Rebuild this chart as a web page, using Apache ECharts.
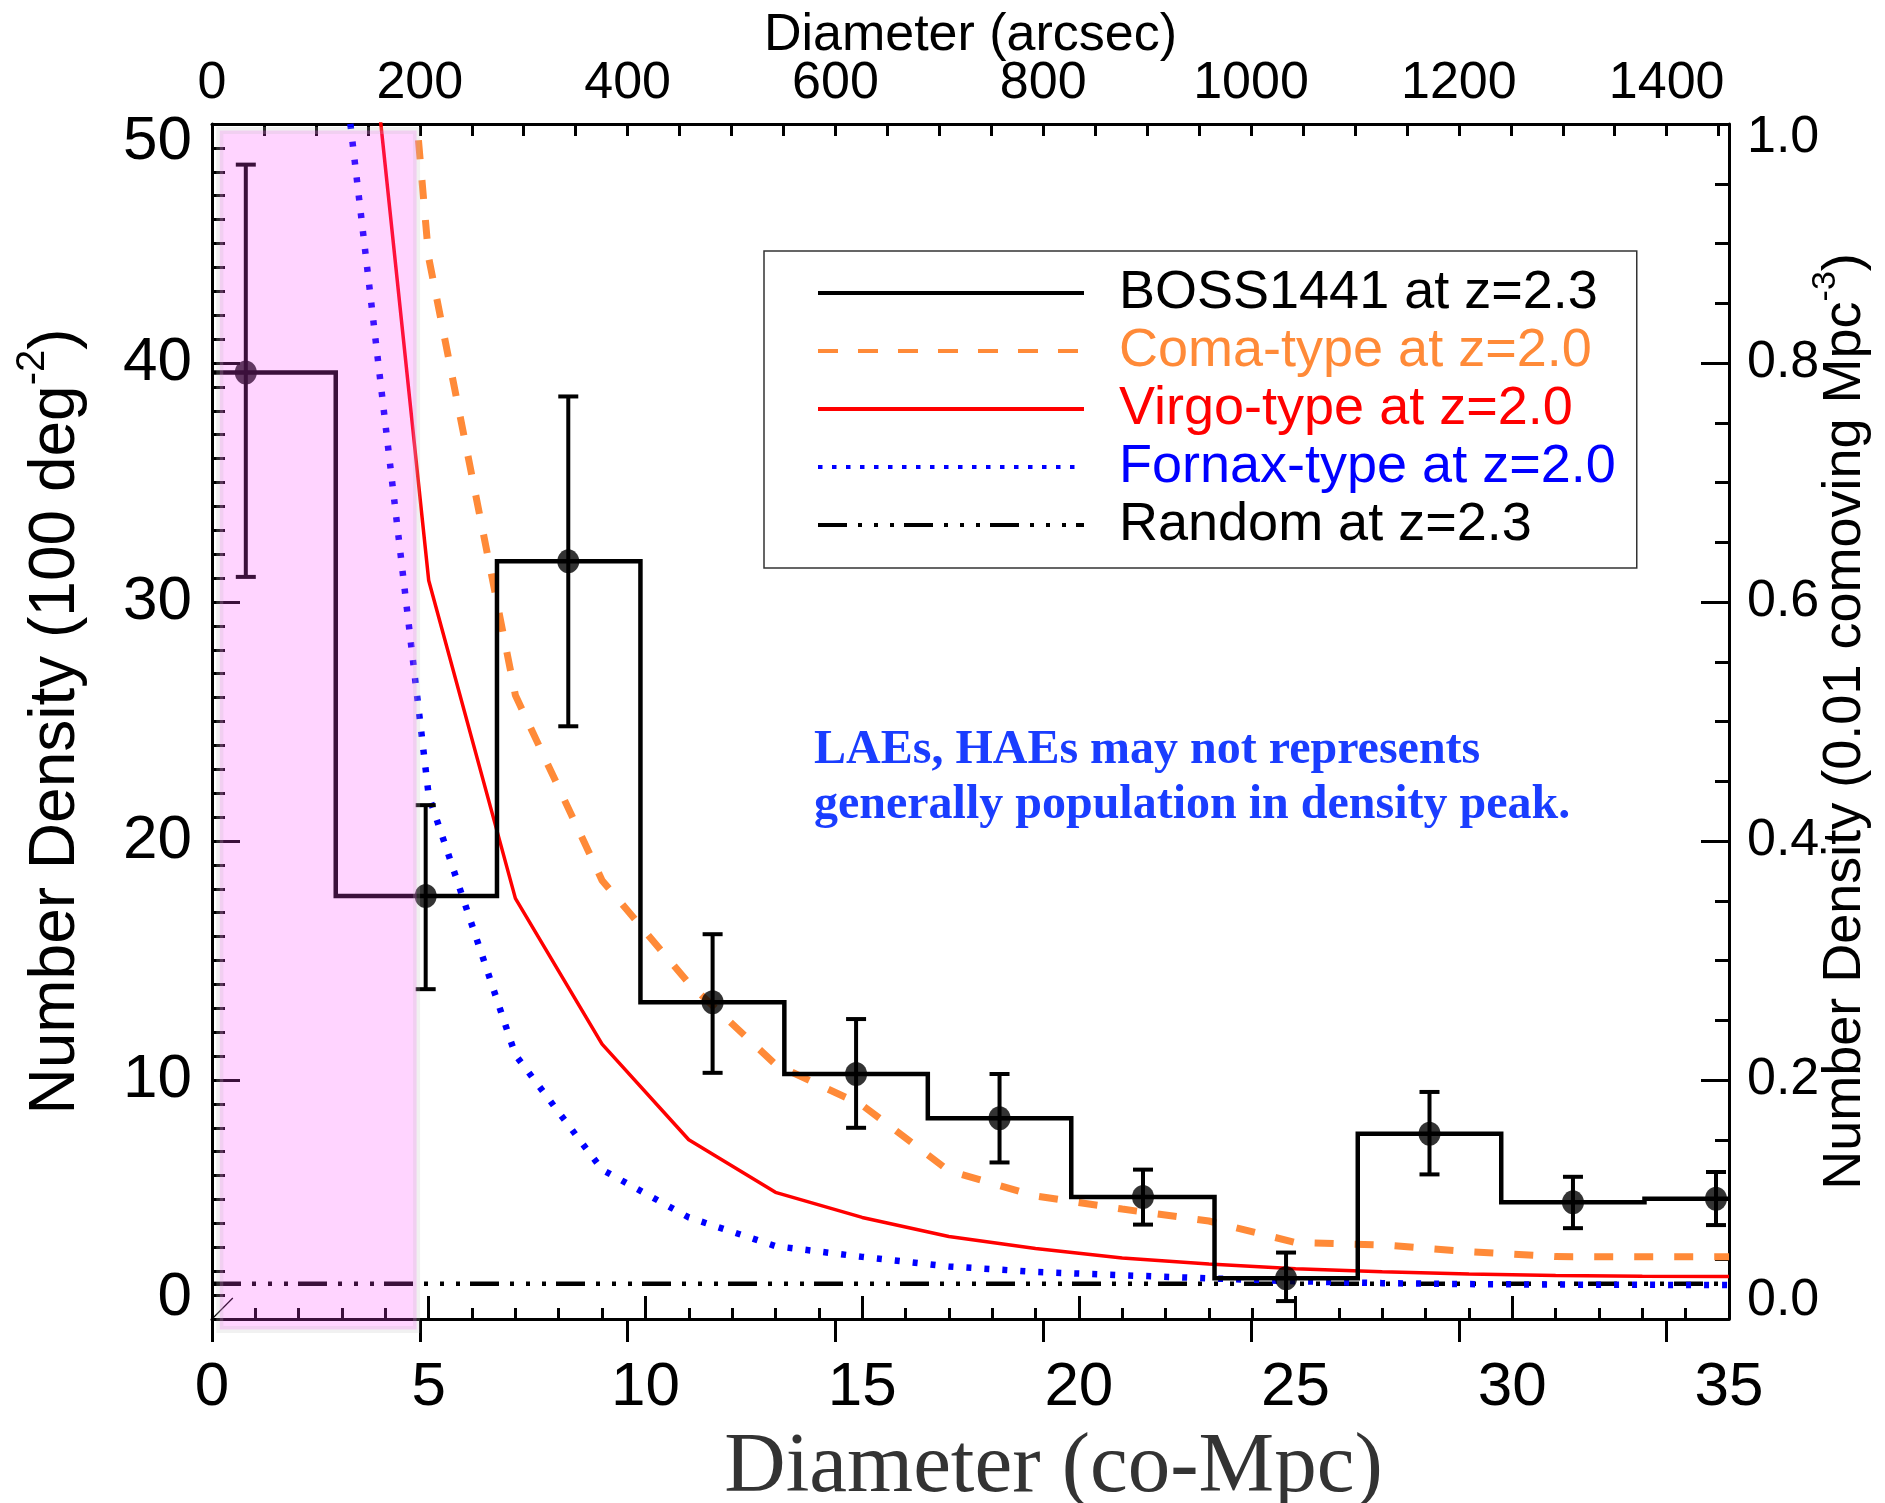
<!DOCTYPE html>
<html><head><meta charset="utf-8">
<script src="https://cdn.jsdelivr.net/npm/echarts@6/dist/echarts.min.js"></script>
<style>html,body{margin:0;padding:0;background:#fff}#c{width:1885px;height:1503px}</style>
</head><body><div id="c"></div>
<script>
// ---------------- data ----------------
const xRange = [0, 35];                 // Diameter (co-Mpc)
const arcsecRange = [0, 1460];          // Diameter (arcsec), top axis
const yRange = [0, 50];                 // Number Density (100 deg^-2)
const yRightRange = [0, 1];             // Number Density (0.01 comoving Mpc^-3)

const binCenters  = [0.78, 4.93, 8.22, 11.55, 14.86, 18.17, 21.48, 24.78, 28.09, 31.40, 34.70];
const bossValues  = [39.6, 17.7, 31.7, 13.25, 10.25, 8.4, 5.1, 1.7, 7.75, 4.88, 5.03];
const bossErrLow  = [31.05, 13.8, 24.8, 10.3, 8.0, 6.55, 3.95, 0.75, 6.05, 3.8, 3.93];
const bossErrHigh = [48.3, 21.5, 38.6, 16.1, 12.55, 10.25, 6.25, 2.78, 9.5, 5.95, 6.15];

const modelX       = [3, 5, 7, 9, 11, 13, 15, 17, 19, 21, 23, 25, 27, 29, 31, 33, 35];
const comaValues   = [86, 44.4, 26.1, 18.35, 14.05, 10.65, 8.95, 6.2, 5.15, 4.6, 4.1, 3.2, 3.1, 2.82, 2.61, 2.6, 2.6];
const virgoValues  = [65.5, 30.9, 17.6, 11.5, 7.5, 5.3, 4.25, 3.45, 2.95, 2.55, 2.3, 2.1, 1.98, 1.88, 1.82, 1.79, 1.78];
const fornaxValues = [53, 21.9, 11.05, 6.25, 4.25, 3.05, 2.6, 2.2, 1.97, 1.83, 1.7, 1.58, 1.5, 1.46, 1.44, 1.43, 1.42];
const randomLevel  = [1.48];

const shadedX = [0.18, 4.72];
const shadedY = [-0.44, 49.73];
const originStubX = [0, 0.48];
const originStubY = [0, 0.88];

const seriesNames = ['BOSS1441 at z=2.3', 'Coma-type at z=2.0', 'Virgo-type at z=2.0', 'Fornax-type at z=2.0', 'Random at z=2.3'];
const annotation = ['LAEs, HAEs may not represents', 'generally population in density peak.'];

// ---------------- styles ----------------
const SANS = '"Liberation Sans", Arial, Helvetica, sans-serif';
const SERIF = '"Liberation Serif", "Times New Roman", Times, serif';
const ORANGE = '#ff8a38';
const RANDOM_DASH = [29, 11, 4, 12, 4, 12, 4, 10];

// ---------------- derived tables ----------------
const edges = [xRange[0]];
for (let i = 0; i < binCenters.length - 1; i++) edges.push((binCenters[i] + binCenters[i + 1]) / 2);
edges.push(xRange[1]);
const histPath = [];
bossValues.forEach((v, i) => { histPath.push([edges[i], v]); histPath.push([edges[i + 1], v]); });
const zip = (xs, ys) => xs.map((x, i) => [x, ys[i]]);

const chart = echarts.init(document.getElementById('c'), null, {renderer: 'canvas'});

const axisLineStyle = {color: '#000', width: 3};
const tickStyle = {color: '#000', width: 3};

function endRich(size, padTop, padBottom) {
  const base = {fontFamily: SANS, fontSize: size, color: '#000'};
  return {
    t: Object.assign({}, base, {padding: [padTop, 0, 0, 0]}),
    b: Object.assign({}, base, {padding: [0, 0, padBottom, 0]}),
    m: Object.assign({}, base)
  };
}

chart.setOption({
  animation: false,
  backgroundColor: '#fff',
  grid: {left: 212, right: 156, top: 124, bottom: 184, containLabel: false, outerBoundsMode: 'none'},
  legend: {
    orient: 'vertical', left: 764, top: 251,
    padding: [13, 21, 14, 52],
    borderColor: '#333', borderWidth: 1.5,
    itemWidth: 266, itemHeight: 20, itemGap: 0,
    selectedMode: false,
    itemStyle: {opacity: 0},
    textStyle: {fontFamily: SANS, fontSize: 54, lineHeight: 58, padding: [0, 0, 0, 30]},
    data: [
      {name: seriesNames[0], textStyle: {color: '#000'}, lineStyle: {color: '#000', width: 4, type: 'solid', opacity: 1}},
      {name: seriesNames[1], textStyle: {color: ORANGE}, lineStyle: {color: ORANGE, width: 4, type: [20, 20], cap: 'butt', opacity: 1}},
      {name: seriesNames[2], textStyle: {color: '#ff0000'}, lineStyle: {color: '#ff0000', width: 4, type: 'solid', opacity: 1}},
      {name: seriesNames[3], textStyle: {color: '#0000ff'}, lineStyle: {color: '#0000ff', width: 4, type: [4.5, 9.5], cap: 'butt', opacity: 1}},
      {name: seriesNames[4], textStyle: {color: '#000'}, lineStyle: {color: '#000', width: 4, type: RANDOM_DASH, cap: 'butt', opacity: 1}}
    ]
  },
  xAxis: [
    {
      type: 'value', position: 'bottom', min: xRange[0], max: xRange[1], interval: 5,
      axisLine: {show: true, onZero: false, lineStyle: axisLineStyle},
      axisTick: {show: true, inside: true, length: 23, lineStyle: tickStyle},
      minorTick: {show: true, splitNumber: 5, length: 11, lineStyle: tickStyle},
      splitLine: {show: false}, minorSplitLine: {show: false},
      axisLabel: {margin: 38, fontSize: 62, color: '#000', fontFamily: SANS},
      name: 'Diameter (co-Mpc)', nameLocation: 'middle', nameGap: 107, nameMoveOverlap: false,
      nameTextStyle: {fontFamily: SERIF, fontSize: 85, color: '#333', padding: [0, 0, 0, 166]}
    },
    {
      type: 'value', position: 'top', min: arcsecRange[0], max: arcsecRange[1], interval: 50,
      axisLine: {show: true, onZero: false, lineStyle: axisLineStyle},
      axisTick: {show: true, inside: true, length: 12, lineStyle: tickStyle},
      splitLine: {show: false},
      axisLabel: {show: false}
    },
    {
      type: 'value', position: 'top', min: arcsecRange[0], max: arcsecRange[1], interval: 200,
      axisLine: {show: false},
      axisTick: {show: true, inside: true, length: 23, lineStyle: tickStyle},
      splitLine: {show: false},
      axisLabel: {margin: 14, fontSize: 52, color: '#000', fontFamily: SANS, showMaxLabel: false,
                  formatter: v => String(v)},
      name: 'Diameter (arcsec)', nameLocation: 'middle', nameGap: 62, nameMoveOverlap: false,
      nameTextStyle: {fontFamily: SANS, fontSize: 52, color: '#000'}
    }
  ],
  yAxis: [
    {
      type: 'value', position: 'left', min: yRange[0], max: yRange[1], interval: 10,
      axisLine: {show: true, onZero: false, lineStyle: axisLineStyle},
      axisTick: {show: true, inside: true, length: 28, lineStyle: tickStyle},
      minorTick: {show: true, splitNumber: 10, length: 13, lineStyle: tickStyle},
      splitLine: {show: false}, minorSplitLine: {show: false},
      axisLabel: {margin: 20, fontSize: 62, color: '#000', fontFamily: SANS,
                  formatter: v => v === yRange[1] ? '{t|' + v + '}' : (v === yRange[0] ? '{b|' + v + '}' : '{m|' + v + '}'),
                  rich: endRich(62, 36, 42)},
      name: '{n|Number Density (100 deg}{s|-2}{n|)}', nameLocation: 'middle', nameRotate: 90, nameGap: 113,
      nameMoveOverlap: false,
      nameTextStyle: {rich: {
        n: {fontFamily: SANS, fontSize: 64, lineHeight: 86, color: '#000'},
        s: {fontFamily: SANS, fontSize: 40, lineHeight: 40, verticalAlign: 'top', color: '#000'}
      }}
    },
    {
      type: 'value', position: 'right', min: yRightRange[0], max: yRightRange[1], interval: 0.2,
      axisLine: {show: true, onZero: false, lineStyle: axisLineStyle},
      axisTick: {show: true, inside: true, length: 28, lineStyle: tickStyle},
      minorTick: {show: true, splitNumber: 4, length: 14, lineStyle: tickStyle},
      splitLine: {show: false}, minorSplitLine: {show: false},
      axisLabel: {margin: 18, fontSize: 52, color: '#000', fontFamily: SANS,
                  formatter: v => {
                    const s = v.toFixed(1);
                    return v === yRightRange[1] ? '{t|' + s + '}' : (v === yRightRange[0] ? '{b|' + s + '}' : '{m|' + s + '}');
                  },
                  rich: endRich(52, 28, 36)},
      name: '{n|Number Density (0.01 comoving Mpc}{s|-3}{n|)}', nameLocation: 'middle', nameRotate: 90, nameGap: 80,
      nameMoveOverlap: false,
      nameTextStyle: {rich: {
        n: {fontFamily: SANS, fontSize: 54, lineHeight: 72, color: '#000'},
        s: {fontFamily: SANS, fontSize: 34, lineHeight: 34, verticalAlign: 'top', color: '#000'}
      }}
    }
  ],
  graphic: [{
    type: 'text', left: 814, top: 723, silent: true,
    style: {text: annotation.join('\n'), font: 'bold 48px ' + SERIF, fill: '#1a3dff', lineHeight: 55}
  }],
  series: [
    {
      name: seriesNames[4], type: 'line', xAxisIndex: 0, yAxisIndex: 0, symbol: 'none', z: 2,
      data: [[xRange[0], randomLevel[0]], [xRange[1], randomLevel[0]]],
      lineStyle: {color: '#000', width: 4.5, type: RANDOM_DASH, cap: 'butt'}
    },
    {
      name: seriesNames[3], type: 'line', xAxisIndex: 0, yAxisIndex: 0, symbol: 'none', z: 2,
      data: zip(modelX, fornaxValues),
      lineStyle: {color: '#0000ff', width: 6.5, type: [5, 13], cap: 'butt'}
    },
    {
      name: seriesNames[2], type: 'line', xAxisIndex: 0, yAxisIndex: 0, symbol: 'none', z: 2,
      data: zip(modelX, virgoValues),
      lineStyle: {color: '#ff0000', width: 3.5, type: 'solid'}
    },
    {
      name: seriesNames[1], type: 'line', xAxisIndex: 0, yAxisIndex: 0, symbol: 'none', z: 2,
      data: zip(modelX, comaValues),
      lineStyle: {color: ORANGE, width: 7, type: [19, 21], cap: 'butt'}
    },
    {
      name: seriesNames[0], type: 'line', xAxisIndex: 0, yAxisIndex: 0, symbol: 'none', z: 3,
      data: histPath,
      lineStyle: {color: '#000', width: 4.5, type: 'solid', join: 'miter'}
    },
    {
      name: 'originStub', type: 'line', xAxisIndex: 0, yAxisIndex: 0, symbol: 'none', z: 3,
      data: zip(originStubX, originStubY), lineStyle: {color: '#000', width: 1.2}
    },
    {
      name: 'BOSS1441 errors', type: 'custom', xAxisIndex: 0, yAxisIndex: 0, z: 4,
      data: binCenters.map((x, i) => [x, bossErrLow[i], bossErrHigh[i]]),
      renderItem: function (params, api) {
        const x = api.value(0);
        const lo = api.coord([x, api.value(1)]);
        const hi = api.coord([x, api.value(2)]);
        const hw = 10;
        const st = {stroke: '#000', lineWidth: 4};
        return {type: 'group', children: [
          {type: 'line', shape: {x1: lo[0], y1: lo[1], x2: hi[0], y2: hi[1]}, style: st},
          {type: 'line', shape: {x1: lo[0] - hw, y1: lo[1], x2: lo[0] + hw, y2: lo[1]}, style: st},
          {type: 'line', shape: {x1: hi[0] - hw, y1: hi[1], x2: hi[0] + hw, y2: hi[1]}, style: st}
        ]};
      }
    },
    {
      name: 'BOSS1441 points', type: 'scatter', xAxisIndex: 0, yAxisIndex: 0, z: 5,
      symbol: 'circle', symbolSize: [22, 24],
      itemStyle: {color: '#000'},
      data: zip(binCenters, bossValues)
    },
    {
      name: 'shaded', type: 'custom', xAxisIndex: 0, yAxisIndex: 0, z: 10, silent: true, clip: false,
      data: [[shadedX[0], shadedY[0], shadedX[1], shadedY[1]]],
      renderItem: function (params, api) {
        const p0 = api.coord([api.value(0), api.value(3)]);
        const p1 = api.coord([api.value(2), api.value(1)]);
        return {type: 'rect', shape: {x: p0[0], y: p0[1], width: p1[0] - p0[0], height: p1[1] - p0[1]},
                style: {fill: 'rgba(255,70,255,0.23)', stroke: 'rgba(190,190,190,0.22)', lineWidth: 7}};
      }
    }
  ]
});
</script>
</body></html>
